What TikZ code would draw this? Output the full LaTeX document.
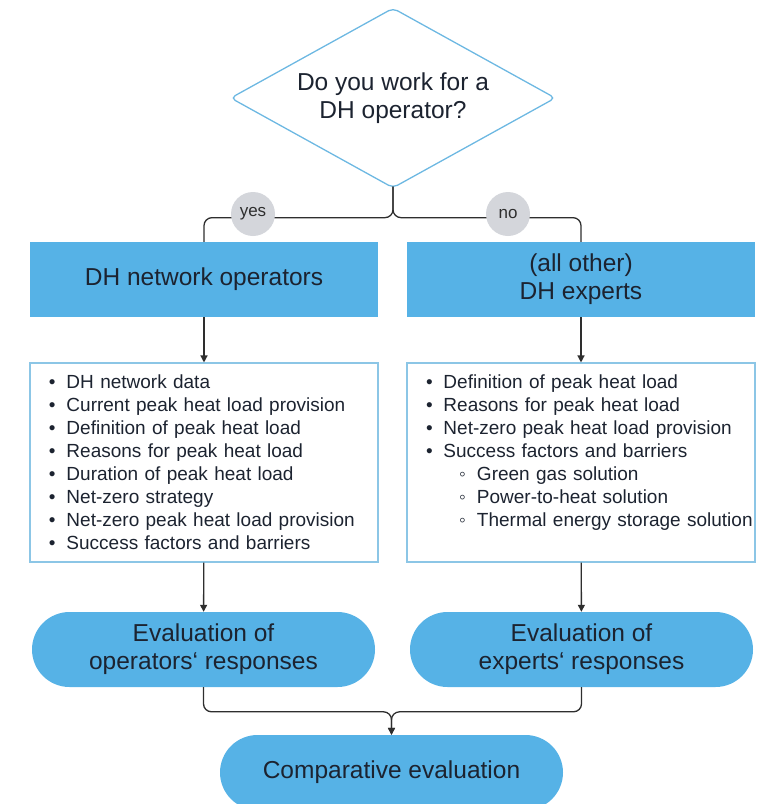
\documentclass[tikz,border=0pt]{standalone}
\usepackage{fontspec}
\setmainfont{Liberation Sans}
\usetikzlibrary{arrows.meta,shapes.geometric}
\definecolor{colfill}{HTML}{56B2E6}
\definecolor{colrim}{HTML}{6DB8E2}
\definecolor{collist}{HTML}{8CC6E6}
\definecolor{colchip}{HTML}{D4D6DB}
\definecolor{colline}{HTML}{2E2E2E}
\definecolor{colink}{HTML}{1C2330}
\newcommand{\bul}[1]{\hspace*{15pt}\makebox[17.5pt][l]{\textbullet}\mbox{#1}}
\newcommand{\subbul}[1]{\hspace*{48pt}\makebox[18pt][l]{◦}\mbox{#1}}

\begin{document}
\begin{tikzpicture}[
  x=1pt, y=-1pt,
  font=\fontsize{24.5}{28}\selectfont, text=colink,
  ask/.style={draw=colrim,line width=1.3pt,diamond,aspect=1.8,rounded corners=5pt,
    minimum width=325pt,minimum height=180pt,inner sep=0pt,align=center},
  head/.style={fill=colfill,minimum width=348pt,minimum height=75pt,inner sep=0pt,align=center},
  items/.style={draw=collist,line width=1.1pt,minimum width=348pt,minimum height=199pt,
    text width=340pt,inner sep=0pt,align=left,font=\fontsize{19}{23}\selectfont},
  pill/.style={fill=colfill,rounded corners=37.5pt,minimum width=343pt,minimum height=75pt,
    inner sep=0pt,align=center},
  chip/.style={circle,fill=colchip,minimum size=44pt,inner sep=0pt,
    font=\fontsize{17}{17}\selectfont,text=colline},
  conn/.style={colline,line width=1.3pt},
  tip/.style={-{Triangle[length=7pt,width=7pt]}},
]
  \path[use as bounding box] (0,0) rectangle (756,804);
  \clip (0,0) rectangle (756,804);
  % ---- question ----
  \node[ask] (q) at (393,98) {Do you work for a\\DH operator?};
  % ---- two groups ----
  \node[head] (ops) at (204,279.5) {DH network operators};
  \node[head] (exp) at (581,279.5) {(all other)\\DH experts};
  \node[items] (opslist) at (204,462.5) {%
    \bul{DH network data}\\
    \bul{Current peak heat load provision}\\
    \bul{Definition of peak heat load}\\
    \bul{Reasons for peak heat load}\\
    \bul{Duration of peak heat load}\\
    \bul{Net-zero strategy}\\
    \bul{Net-zero peak heat load provision}\\
    \bul{Success factors and barriers}};
  \node[items] (explist) at (581,462.5) {%
    \bul{Definition of peak heat load}\\
    \bul{Reasons for peak heat load}\\
    \bul{Net-zero peak heat load provision}\\
    \bul{Success factors and barriers}\\
    \subbul{Green gas solution}\\
    \subbul{Power-to-heat solution}\\
    \subbul{Thermal energy storage solution}\\
    \mbox{}};
  % ---- evaluation ----
  \node[pill] (evops) at (203.5,649.5) {Evaluation of\\operators‘ responses};
  \node[pill] (evexp) at (581.5,649.5) {Evaluation of\\experts‘ responses};
  \node[pill] (comp) at (391.5,772.5) {Comparative evaluation};
  % ---- connectors ----
  \coordinate (fork) at ([yshift=-29pt]q.south);
  \draw[conn,rounded corners=8pt] ([yshift=2pt]q.south) -- (fork) -| (ops.north);
  \draw[conn,rounded corners=8pt] ([yshift=2pt]q.south) -- (fork) -| (exp.north);
  \node[chip] (yes) at (253,214) {yes};
  \node[chip] (no) at (508,214) {no};
  \draw[conn,tip] (ops) -- (opslist);
  \draw[conn,tip] (exp) -- (explist);
  \draw[conn,tip] (opslist) -- (evops);
  \draw[conn,tip] (explist) -- (evexp);
  \coordinate (merge) at ([yshift=23pt]comp.north);
  \draw[conn,rounded corners=8pt,tip] (evops.south) |- (merge) -- (comp.north);
  \draw[conn,rounded corners=8pt,tip] (evexp.south) |- (merge) -- (comp.north);
\end{tikzpicture}
\end{document}
